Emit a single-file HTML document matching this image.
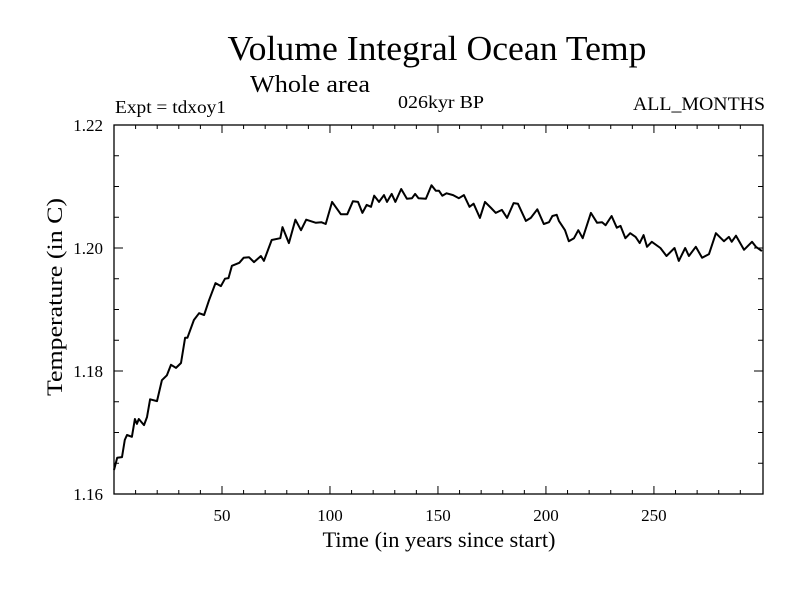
<!DOCTYPE html>
<html><head><meta charset="utf-8"><style>
html,body{margin:0;padding:0;background:#fff;}
svg{display:block;font-family:"Liberation Serif",serif;}
</style></head><body>
<svg id="chart" width="800" height="600" viewBox="0 0 800 600">
<rect width="800" height="600" fill="#fff"/>
<text x="437" y="60" font-size="35" text-anchor="middle" textLength="419" lengthAdjust="spacingAndGlyphs">Volume Integral Ocean Temp</text>
<text x="250" y="92" font-size="24" textLength="120" lengthAdjust="spacingAndGlyphs">Whole area</text>
<text x="115" y="113" font-size="18" textLength="111" lengthAdjust="spacingAndGlyphs">Expt = tdxoy1</text>
<text x="398" y="108" font-size="18" textLength="86" lengthAdjust="spacingAndGlyphs">026kyr BP</text>
<text x="633" y="110" font-size="19" textLength="132" lengthAdjust="spacingAndGlyphs">ALL_MONTHS</text>
<text x="439" y="547" font-size="22" text-anchor="middle" textLength="233" lengthAdjust="spacingAndGlyphs">Time (in years since start)</text>
<text transform="translate(62,297) rotate(-90)" font-size="22" text-anchor="middle" textLength="198" lengthAdjust="spacingAndGlyphs">Temperature (in C)</text>
<rect x="114" y="125" width="649" height="369" fill="none" stroke="#000" stroke-width="1.3"/>
<g id="ticks"></g>
<g id="series"></g>
</svg>
<script>
const years=[0,1.5,3.7,5,6,8.3,9.7,10.6,11.5,13.9,15.3,16.7,19.9,22.2,24.5,26.4,28.7,31,32.9,34,37,39.4,41.7,44,47,49.5,51.4,53,54.6,58,60,62.5,64.8,68,69.4,73,77,78,81,84,86.6,89,93.5,96,98,101,105,108,110.6,113,115,117,119,120.5,122.7,125,126.4,128.6,130.3,133,135.6,138,139.4,141,144.4,147,149,150.5,152,154,157,159.7,162,164.6,166.5,169.4,171.8,174.6,176.8,179.6,182,185,187,190.7,193,196,199,201.4,203,205,206,208.8,210.6,213,215,217,220.8,223.7,226,227.6,230.4,232.8,234.5,236.8,239,241.5,243.4,245.2,246.8,249,253,255.8,259.5,261.5,264.5,266.2,269.4,272.3,275.5,278.7,282.4,284.7,286,288,291.7,295.4,297.2,300];
const temps=[1.1639,1.1659,1.1660,1.1688,1.1696,1.1693,1.1722,1.1714,1.1722,1.1712,1.1725,1.1754,1.1751,1.1785,1.1793,1.1810,1.1805,1.1813,1.1854,1.1854,1.1883,1.1894,1.1891,1.1915,1.1943,1.1938,1.1950,1.1951,1.1971,1.1976,1.1984,1.1985,1.1977,1.1987,1.1979,1.2013,1.2016,1.2034,1.2008,1.2046,1.2029,1.2046,1.2041,1.2042,1.2039,1.2075,1.2055,1.2055,1.2076,1.2075,1.2057,1.2070,1.2067,1.2085,1.2075,1.2086,1.2075,1.2088,1.2075,1.2096,1.2080,1.2081,1.2088,1.2081,1.2080,1.2102,1.2093,1.2093,1.2085,1.2089,1.2086,1.2081,1.2086,1.2067,1.2072,1.2049,1.2075,1.2065,1.2057,1.2062,1.2049,1.2073,1.2072,1.2044,1.2049,1.2063,1.2039,1.2042,1.2052,1.2054,1.2044,1.2029,1.2011,1.2016,1.2029,1.2016,1.2057,1.2041,1.2042,1.2037,1.2052,1.2033,1.2036,1.2016,1.2024,1.2018,1.2008,1.2021,1.2002,1.2010,1.2000,1.1987,1.2000,1.1979,1.2000,1.1987,1.2002,1.1984,1.1990,1.2024,1.2011,1.2018,1.2010,1.2020,1.1997,1.2010,1.2002,1.1995];
const xTickLabels=[50,100,150,200,250];
const yTickLabels=["1.16","1.18","1.20","1.22"];
const NS="http://www.w3.org/2000/svg";
const X0=114,X1=763,Y0=494,Y1=125,XMIN=0,XMAX=300.5,YMIN=1.16,YMAX=1.22;
function sx(v){return X0+(v-XMIN)/(XMAX-XMIN)*(X1-X0);}
function sy(v){return Y0-(v-YMIN)/(YMAX-YMIN)*(Y0-Y1);}
function mk(tag,attrs,parent){const e=document.createElementNS(NS,tag);for(const k in attrs)e.setAttribute(k,attrs[k]);parent.appendChild(e);return e;}
const tg=document.getElementById('ticks');
for(let yr=10;yr<300;yr+=10){
  const L=(yr%50===0)?8:4;const x=sx(yr);
  const a=mk('line',{x1:x,x2:x,y1:Y0,y2:Y0-L,stroke:'#000','stroke-width':1},tg);
  
  
  const b=mk('line',{x1:x,x2:x,y1:Y1,y2:Y1+L,stroke:'#000','stroke-width':1},tg);
  
  
}
for(let i=1;i<12;i++){
  const v=YMIN+i*0.005;const L=(i%4===0)?9:5;const y=sy(v);
  const a=mk('line',{x1:X0,x2:X0+L,y1:y,y2:y,stroke:'#000','stroke-width':1},tg);
  
  
  const b=mk('line',{x1:X1,x2:X1-L,y1:y,y2:y,stroke:'#000','stroke-width':1},tg);
  
  
}
xTickLabels.forEach(v=>{
  const t=mk('text',{x:sx(v),y:Y0+27,'font-size':17,'text-anchor':'middle'},tg);
  
  
  t.textContent=v;
});
yTickLabels.forEach(v=>{
  const t=mk('text',{x:X0-11,y:sy(parseFloat(v))+6,'font-size':17,'text-anchor':'end'},tg);
  
  
  t.textContent=v;
});
const d=years.map((yr,i)=>(i?'L':'M')+sx(yr).toFixed(1)+','+sy(temps[i]).toFixed(1)).join('');
const p=mk('path',{d:d,fill:'none',stroke:'#000','stroke-width':2,'stroke-linejoin':'round'},document.getElementById('series'));


</script>
</body></html>
